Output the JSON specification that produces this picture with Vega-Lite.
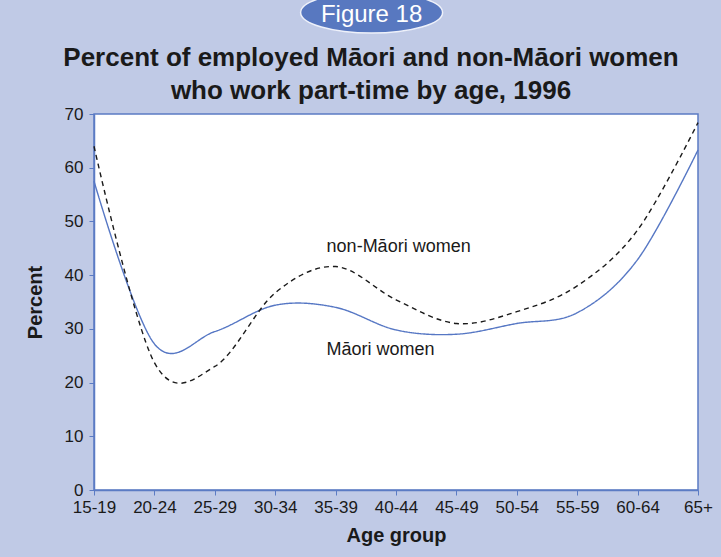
{
  "$schema": "https://vega.github.io/schema/vega-lite/v6.json",
  "width": 604,
  "height": 376,
  "autosize": {"type": "none"},
  "padding": {"left": 94, "top": 114, "right": 23, "bottom": 67},
  "background": "#c0cae6",
  "config": {
    "font": "Liberation Sans",
    "view": {"fill": "#ffffff", "stroke": "#5b7bc4", "strokeWidth": 1.5},
    "axisX": {
      "labelAngle": 0,
      "labelFontSize": 17,
      "labelColor": "#1a1a1a",
      "labelPadding": 4,
      "tickSize": 5,
      "tickColor": "#5b7bc4",
      "domainColor": "#5b7bc4",
      "domainWidth": 1.5,
      "grid": false,
      "titleFontSize": 20,
      "titleFontWeight": "bold",
      "titleColor": "#1a1a1a",
      "titlePadding": 10
    },
    "axisY": {
      "labelFontSize": 17,
      "labelColor": "#1a1a1a",
      "labelPadding": 6,
      "tickSize": 5,
      "tickColor": "#5b7bc4",
      "domainColor": "#5b7bc4",
      "domainWidth": 1.5,
      "grid": false,
      "titleFontSize": 20,
      "titleFontWeight": "bold",
      "titleColor": "#1a1a1a",
      "titlePadding": 19
    }
  },
  "title": {
    "text": ["Percent of employed Māori and non-Māori women", "who work part-time by age, 1996"],
    "font": "Liberation Sans",
    "fontSize": 26,
    "fontWeight": "bold",
    "color": "#1a1a1a",
    "lineHeight": 33,
    "anchor": "middle",
    "frame": "group",
    "dx": -25,
    "offset": -115
  },
  "datasets": {
    "series": [
      {"age": "15-19", "group": "Māori women", "percent": 57.5},
      {"age": "20-24", "group": "Māori women", "percent": 27.2},
      {"age": "25-29", "group": "Māori women", "percent": 29.5},
      {"age": "30-34", "group": "Māori women", "percent": 34.4},
      {"age": "35-39", "group": "Māori women", "percent": 34.0},
      {"age": "40-44", "group": "Māori women", "percent": 29.8},
      {"age": "45-49", "group": "Māori women", "percent": 29.0},
      {"age": "50-54", "group": "Māori women", "percent": 31.0},
      {"age": "55-59", "group": "Māori women", "percent": 33.0},
      {"age": "60-64", "group": "Māori women", "percent": 42.9},
      {"age": "65+", "group": "Māori women", "percent": 63.3},
      {"age": "15-19", "group": "non-Māori women", "percent": 64.0},
      {"age": "20-24", "group": "non-Māori women", "percent": 23.7},
      {"age": "25-29", "group": "non-Māori women", "percent": 23.0},
      {"age": "30-34", "group": "non-Māori women", "percent": 36.7},
      {"age": "35-39", "group": "non-Māori women", "percent": 41.6},
      {"age": "40-44", "group": "non-Māori women", "percent": 35.4},
      {"age": "45-49", "group": "non-Māori women", "percent": 31.0},
      {"age": "50-54", "group": "non-Māori women", "percent": 33.2},
      {"age": "55-59", "group": "non-Māori women", "percent": 38.0},
      {"age": "60-64", "group": "non-Māori women", "percent": 48.4},
      {"age": "65+", "group": "non-Māori women", "percent": 68.4}
    ],
    "labels": [
      {"age": "35-39", "percent": 45.3, "label": "non-Māori women"},
      {"age": "35-39", "percent": 26.1, "label": "Māori women"}
    ],
    "badge": [
      {"label": "Figure 18"}
    ]
  },
  "layer": [
    {
      "data": {"name": "series"},
      "mark": {"type": "line", "interpolate": "cardinal", "strokeWidth": 1.4},
      "encoding": {
        "x": {
          "field": "age",
          "type": "ordinal",
          "title": "Age group",
          "scale": {
            "type": "point",
            "padding": 0,
            "domain": ["15-19", "20-24", "25-29", "30-34", "35-39", "40-44", "45-49", "50-54", "55-59", "60-64", "65+"]
          }
        },
        "y": {
          "field": "percent",
          "type": "quantitative",
          "title": "Percent",
          "scale": {"domain": [0, 70], "nice": false, "zero": true},
          "axis": {"values": [0, 10, 20, 30, 40, 50, 60, 70]}
        },
        "color": {
          "field": "group",
          "type": "nominal",
          "scale": {"domain": ["Māori women", "non-Māori women"], "range": ["#5677c4", "#1a1a1a"]},
          "legend": null
        },
        "strokeDash": {
          "field": "group",
          "type": "nominal",
          "scale": {"domain": ["Māori women", "non-Māori women"], "range": [[1, 0], [5, 4]]},
          "legend": null
        }
      }
    },
    {
      "data": {"name": "labels"},
      "mark": {"type": "text", "align": "left", "baseline": "middle", "dx": -9, "fontSize": 18, "color": "#1a1a1a"},
      "encoding": {
        "x": {"field": "age", "type": "ordinal", "title": "Age group"},
        "y": {"field": "percent", "type": "quantitative", "title": "Percent"},
        "text": {"field": "label"}
      }
    },
    {
      "data": {"name": "badge"},
      "mark": {
        "type": "point",
        "shape": "M-1,0 C-1,-0.16 -0.552,-0.29 0,-0.29 C0.552,-0.29 1,-0.16 1,0 C1,0.16 0.552,0.29 0,0.29 C-0.552,0.29 -1,0.16 -1,0 Z",
        "filled": true,
        "fill": "#5878c0",
        "stroke": "#eef1fa",
        "strokeWidth": 1.5,
        "opacity": 1,
        "size": 20164,
        "xOffset": 36,
        "clip": false
      },
      "encoding": {
        "x": {"datum": "35-39", "type": "ordinal", "title": "Age group"},
        "y": {"datum": 88.9, "type": "quantitative", "title": "Percent"}
      }
    },
    {
      "data": {"name": "badge"},
      "mark": {"type": "text", "dx": 36, "dy": 1, "align": "center", "baseline": "middle", "fontSize": 24, "color": "#ffffff", "clip": false},
      "encoding": {
        "x": {"datum": "35-39", "type": "ordinal", "title": "Age group"},
        "y": {"datum": 88.7, "type": "quantitative", "title": "Percent"},
        "text": {"field": "label"}
      }
    }
  ]
}
